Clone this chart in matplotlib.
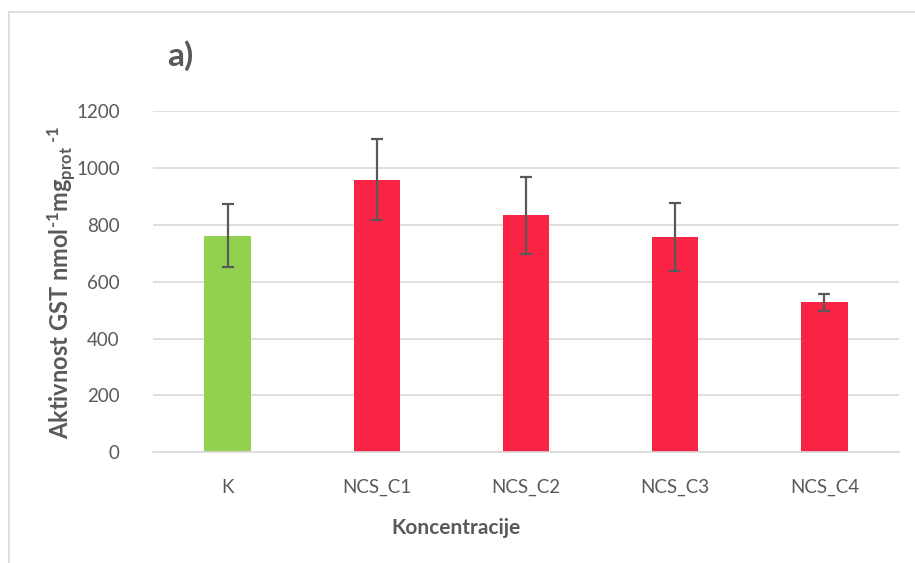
import matplotlib
matplotlib.use("Agg")
import matplotlib.pyplot as plt
from matplotlib.patches import Rectangle

categories = ["K", "NCS_C1", "NCS_C2", "NCS_C3", "NCS_C4"]
values = [761, 959, 833, 757, 527]
errors = [111, 143, 136, 120, 30]
colors = ["#92D050", "#F92343", "#F92343", "#F92343", "#F92343"]
yticks = [0, 200, 400, 600, 800, 1000, 1200]

plt.rcParams['font.family'] = ['Lato', 'DejaVu Sans']
plt.rcParams['mathtext.fontset'] = 'custom'
plt.rcParams['mathtext.rm'] = 'Lato:bold'
plt.rcParams['mathtext.bf'] = 'Lato:bold'
plt.rcParams['mathtext.default'] = 'bf'
txt = "#595959"

fig = plt.figure(figsize=(9.15, 5.63), dpi=100)
fig.patches.append(Rectangle((9/915, -0.1), 1.2, 1 - 12/563 + 0.1, transform=fig.transFigure,
                             fill=False, edgecolor="#D9D9D9", linewidth=1.2, zorder=0))
ax = fig.add_axes([153/915, 1 - 452.3/563, 746/915, (452.3 - 111)/563])

x = list(range(len(categories)))
ax.bar(x, values, width=0.31, color=colors, zorder=2)
ax.errorbar(x, values, yerr=errors, fmt="none", ecolor="#595959", elinewidth=1.6,
            capsize=4.5, capthick=1.6, zorder=3)

ax.set_xlim(-0.5, len(categories) - 0.5)
ax.set_ylim(0, 1200)
ax.set_yticks(yticks)
ax.set_yticklabels([str(v) for v in yticks])
ax.set_xticks(x)
ax.set_xticklabels(categories)
ax.yaxis.grid(True, color="#D9D9D9", linewidth=1.2, zorder=0)
ax.set_axisbelow(True)
for s in ["top", "right", "left"]:
    ax.spines[s].set_visible(False)
ax.spines["bottom"].set_color("#D9D9D9")
ax.spines["bottom"].set_linewidth(1.2)
ax.tick_params(axis="both", length=0, colors=txt, labelsize=13.5)
ax.tick_params(axis="y", pad=24)
ax.tick_params(axis="x", pad=19)

fig.text(62/915, 1 - 283/563,
         r"Aktivnost GST nmol$^{\text{-1}}$mg$_{\text{prot}}$$^{\text{ -1}}$",
         fontsize=17, fontweight="bold", color=txt, rotation=90, ha="center", va="center")
fig.text(456/915, 1 - 528/563, "Koncentracije", fontsize=15, fontweight="bold",
         color=txt, ha="center", va="center")
fig.text(180/915, 1 - 56/563, "a)", fontsize=24, fontweight="bold", color=txt,
         ha="center", va="center")

fig.savefig("out.png", dpi=100)
